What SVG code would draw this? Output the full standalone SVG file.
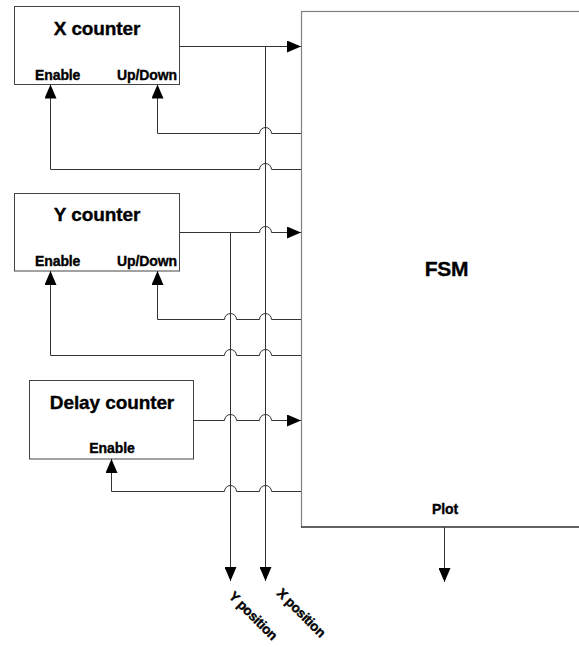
<svg xmlns="http://www.w3.org/2000/svg" width="579" height="647" viewBox="0 0 579 647">
<style>
.box{fill:#fff;stroke:#444;stroke-width:1}
.fsm{fill:#fff;stroke:#857f7f;stroke-width:1.2}
.t{font-family:"Liberation Sans",Arial,Helvetica,sans-serif;font-weight:bold;fill:#000;stroke:#000;stroke-width:0.35}
.title{font-size:19px;letter-spacing:-0.1px}
.port{font-size:14px;letter-spacing:-0.1px}
.lbl{font-size:13.5px;letter-spacing:-0.3px}
.c{fill:none;stroke:#333;stroke-width:1}
</style>
<defs>
<marker id="ah" viewBox="0 0 14 12" markerWidth="14" markerHeight="12" markerUnits="userSpaceOnUse" refX="14" refY="6" orient="auto">
<path d="M0,0 L14,6 L0,12 Z" fill="#000"/>
</marker>
</defs>
<rect x="0" y="0" width="579" height="647" fill="#fff"/>
<g id="fsm">
<rect class="fsm" x="301.5" y="11.5" width="290" height="515.5"/>
<line x1="301" y1="527" x2="579" y2="527" stroke="#111" stroke-width="1.2"/>
<text class="t" x="446.5" y="276" font-size="21" text-anchor="middle" letter-spacing="-0.3">FSM</text>
<text class="t port" x="445" y="514" text-anchor="middle">Plot</text>
</g>
<g id="x-counter">
<rect class="box" x="14.5" y="6.5" width="165" height="78"/>
<text class="t title" x="97" y="35" text-anchor="middle">X counter</text>
<text class="t port" x="35" y="80">Enable</text>
<text class="t port" x="117" y="80">Up/Down</text>
</g>
<g id="y-counter">
<rect class="box" x="14.5" y="193.5" width="165" height="77.5"/>
<text class="t title" x="97" y="221" text-anchor="middle">Y counter</text>
<text class="t port" x="35" y="266">Enable</text>
<text class="t port" x="117" y="266">Up/Down</text>
</g>
<g id="delay-counter">
<rect class="box" x="29.5" y="380.5" width="164" height="78.5"/>
<text class="t title" x="112" y="409" text-anchor="middle">Delay counter</text>
<text class="t port" x="112" y="453" text-anchor="middle">Enable</text>
</g>
<g id="connectors">
<path class="c" d="M179,46.5 H301" marker-end="url(#ah)"/>
<path class="c" d="M265.5,46.5 V581" marker-end="url(#ah)"/>
<path class="c" d="M230.5,232 V581" marker-end="url(#ah)"/>
<path class="c" d="M301,133.5 H271.5 A6,6 0 0 0 259.5,133.5 H157.5 V84.5" marker-end="url(#ah)"/>
<path class="c" d="M301,169.5 H271.5 A6,6 0 0 0 259.5,169.5 H50.5 V84.5" marker-end="url(#ah)"/>
<path class="c" d="M179,232.5 H259.5 A6,6 0 0 1 271.5,232.5 H301" marker-end="url(#ah)"/>
<path class="c" d="M301,319.5 H271.5 A6,6 0 0 0 259.5,319.5 H236.5 A6,6 0 0 0 224.5,319.5 H157.5 V271" marker-end="url(#ah)"/>
<path class="c" d="M301,355.5 H271.5 A6,6 0 0 0 259.5,355.5 H236.5 A6,6 0 0 0 224.5,355.5 H50.5 V271" marker-end="url(#ah)"/>
<path class="c" d="M193,420.5 H224.5 A6,6 0 0 1 236.5,420.5 H259.5 A6,6 0 0 1 271.5,420.5 H301" marker-end="url(#ah)"/>
<path class="c" d="M301,491.5 H271.5 A6,6 0 0 0 259.5,491.5 H236.5 A6,6 0 0 0 224.5,491.5 H111.5 V459" marker-end="url(#ah)"/>
<path class="c" d="M444.5,527 V582" stroke="#777" marker-end="url(#ah)"/>
</g>
<g id="labels">
<text class="t lbl" x="250" y="619" text-anchor="middle" transform="rotate(45 250 619)">Y position</text>
<text class="t lbl" x="298" y="616" text-anchor="middle" transform="rotate(45 298 616)">X position</text>
</g>
</svg>
